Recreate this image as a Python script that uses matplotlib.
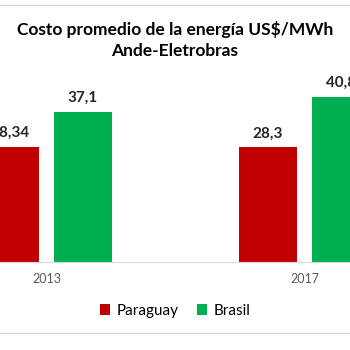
import numpy as np
import matplotlib
matplotlib.use("Agg")
import matplotlib.pyplot as plt
from matplotlib.lines import Line2D

# Data
years = ["2013", "2017"]
paraguay = [28.34, 28.3]
brasil = [37.1, 40.8]
paraguay_labels = ["28,34", "28,3"]
brasil_labels = ["37,1", "40,8"]

plt.rcParams['font.family'] = ['Lato', 'DejaVu Sans']

fig = plt.figure(figsize=(3.5, 3.5), dpi=100)
ax = fig.add_axes([0.0, 0.2514, 1.0, 0.52])

x = np.arange(len(years))
w = 0.225
off = 0.1415
bp = ax.bar(x - off, paraguay, w, color='#C00000', label='Paraguay')
bb = ax.bar(x + off, brasil, w, color='#00B050', label='Brasil')

for bars, labels in [(bp, paraguay_labels), (bb, brasil_labels)]:
    for rect, lab in zip(bars, labels):
        ax.annotate(lab, (rect.get_x() + rect.get_width() / 2, rect.get_height()),
                    xytext=(0, 5), textcoords='offset points',
                    ha='center', va='bottom', fontsize=11, fontweight='bold',
                    color='#262626')

ax.set_xlim(-0.180, 1.176)
ax.set_ylim(0, 44.9)
ax.set_xticks(x)
ax.set_xticklabels(years, fontsize=9, color='#595959')
ax.tick_params(axis='x', length=0, pad=8)
ax.set_yticks([])
for s in ['top', 'left', 'right']:
    ax.spines[s].set_visible(False)
ax.spines['bottom'].set_color('#D9D9D9')

fig.text(0.5, 0.886, "Costo promedio de la energía US$/MWh\nAnde-Eletrobras",
         ha='center', va='center', fontsize=12.5, fontweight='bold',
         color='black', linespacing=1.4)

fig.legend(handles=[bp, bb], loc='center', bbox_to_anchor=(0.5, 0.111),
           ncol=2, frameon=False, fontsize=11, handlelength=0.7,
           handleheight=0.7, handletextpad=0.4, columnspacing=1.2)

# chart border lines (top and bottom)
fig.add_artist(Line2D([0, 1], [1 - 5 / 350, 1 - 5 / 350], transform=fig.transFigure,
                      color='#D9D9D9', lw=1))
fig.add_artist(Line2D([0, 1], [1 - 333 / 350, 1 - 333 / 350], transform=fig.transFigure,
                      color='#D9D9D9', lw=1))

fig.savefig("out.png", dpi=100)
